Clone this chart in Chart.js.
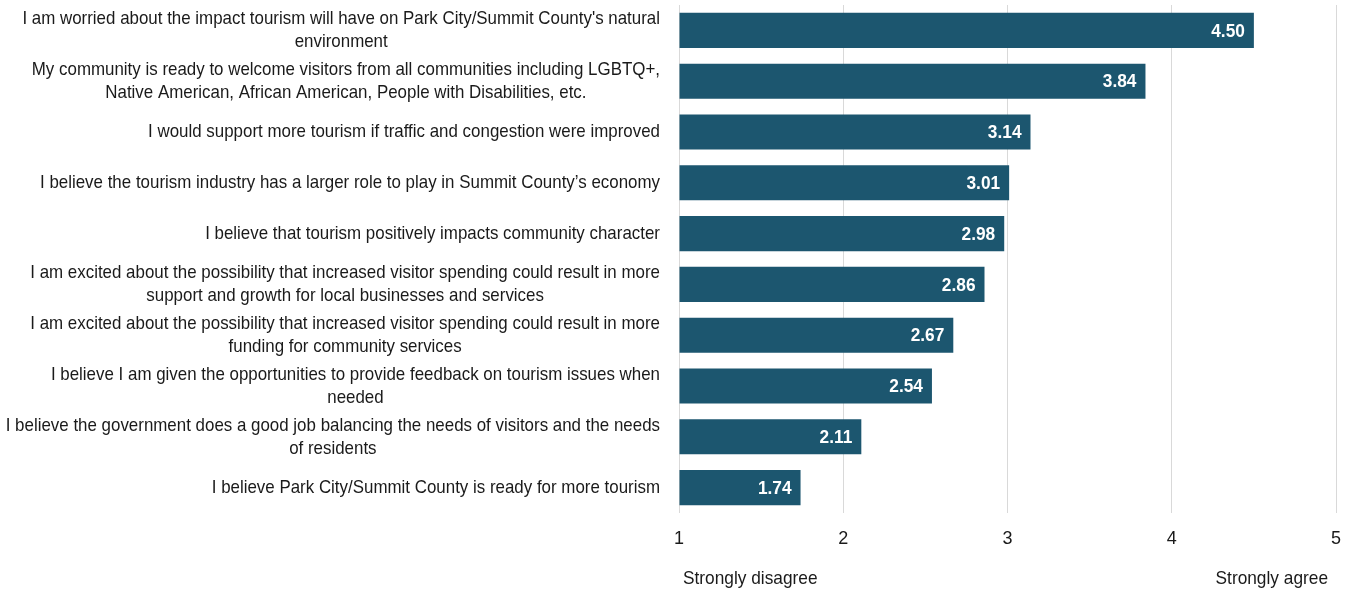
<!DOCTYPE html>
<html>
<head>
<meta charset="utf-8">
<script src="https://cdn.jsdelivr.net/npm/chart.js@4"></script>
<style>
  html, body { margin: 0; padding: 0; background: #fff; }
  #wrap { width: 1351px; height: 594px; position: relative; }
</style>
</head>
<body>
<div id="wrap"><canvas id="agreeChart"></canvas></div>
<script>
// ---- data ----
const statements = [
    ["I am worried about the impact tourism will have on Park City/Summit County's natural", "environment"],
    ["My community is ready to welcome visitors from all communities including LGBTQ+,", "Native American, African American, People with Disabilities, etc."],
    ["I would support more tourism if traffic and congestion were improved"],
    ["I believe the tourism industry has a larger role to play in Summit County\u2019s economy"],
    ["I believe that tourism positively impacts community character"],
    ["I am excited about the possibility that increased visitor spending could result in more", "support and growth for local businesses and services"],
    ["I am excited about the possibility that increased visitor spending could result in more", "funding for community services"],
    ["I believe I am given the opportunities to provide feedback on tourism issues when", "needed"],
    ["I believe the government does a good job balancing the needs of visitors and the needs", "of residents"],
    ["I believe Park City/Summit County is ready for more tourism"]
];
const meanScores = [4.50, 3.84, 3.14, 3.01, 2.98, 2.86, 2.67, 2.54, 2.11, 1.74];
const scaleTicks = [1, 2, 3, 4, 5];
const scaleEnds = ["Strongly disagree", "Strongly agree"];

const FONT = '"Liberation Sans", Arial, sans-serif';
const TEXT = "#1a1a1a";
const SQUEEZE = 0.89;   // fake the narrow face of the original

// draw text squeezed horizontally, anchored at x
function narrowText(ctx, str, x, y, align, sq) {
    ctx.save();
    ctx.translate(x, y);
    ctx.scale(sq || SQUEEZE, 1);
    ctx.textAlign = align;
    ctx.fillText(str, 0, 0);
    ctx.restore();
}

const labelPlugin = {
    id: "labelPlugin",
    afterDraw(chart) {
        const ctx = chart.ctx;
        const yScale = chart.scales.y;
        const xScale = chart.scales.x;
        const area = chart.chartArea;
        ctx.save();
        ctx.fillStyle = TEXT;
        ctx.font = "19px " + FONT;
        ctx.textBaseline = "middle";
        const rightEdge = area.left - 19;
        const lh = 23;
        // category labels: block right-aligned, lines centred in the block
        statements.forEach((lines, i) => {
            const y = yScale.getPixelForTick(i);
            const w = Math.max(...lines.map(l => ctx.measureText(l).width)) * SQUEEZE;
            const cx = rightEdge - w / 2;
            const y0 = y - (lines.length - 1) * lh / 2;
            lines.forEach((l, j) => narrowText(ctx, l, cx, y0 + j * lh, "center"));
        });

        // values inside bar ends
        ctx.fillStyle = "#fff";
        ctx.font = "bold 19px " + FONT;
        chart.getDatasetMeta(0).data.forEach((bar, i) => {
            narrowText(ctx, meanScores[i].toFixed(2), bar.x - 9, bar.y + 1, "right", 0.91);
        });

        // end-point captions
        ctx.fillStyle = TEXT;
        ctx.font = "19px " + FONT;
        narrowText(ctx, scaleEnds[0], xScale.getPixelForValue(scaleTicks[0]) + 4, 579, "left", 0.91);
        narrowText(ctx, scaleEnds[1], xScale.getPixelForValue(scaleTicks[scaleTicks.length - 1]) - 8, 579, "right", 0.91);
        ctx.restore();
    }
};

new Chart(document.getElementById("agreeChart"), {
    type: "bar",
    data: {
        labels: statements,
        datasets: [{
            data: meanScores,
            base: 1,
            backgroundColor: "#1c566f",
            borderWidth: 0,
            barPercentage: 0.69,
            categoryPercentage: 1
        }]
    },
    options: {
        indexAxis: "y",
        responsive: true,
        maintainAspectRatio: false,
        animation: false,
        layout: { padding: { top: 5, right: 15, left: 0, bottom: 0 } },
        plugins: {
            legend: { display: false },
            tooltip: { enabled: false }
        },
        scales: {
            x: {
                min: 1,
                max: 5,
                afterBuildTicks: s => { s.ticks = scaleTicks.map(v => ({ value: v })); },
                afterFit: s => { s.height = 81; s.paddingLeft = 0; s.paddingRight = 0; },
                grid: { color: "#d9d9d9", drawTicks: false },
                border: { display: false },
                ticks: {
                    padding: 15,
                    color: TEXT,
                    font: { family: FONT, size: 18 }
                }
            },
            y: {
                afterFit: s => { s.width = 679; },
                grid: { display: false },
                border: { display: false },
                ticks: { display: false }
            }
        }
    },
    plugins: [labelPlugin]
});
</script>
</body>
</html>
